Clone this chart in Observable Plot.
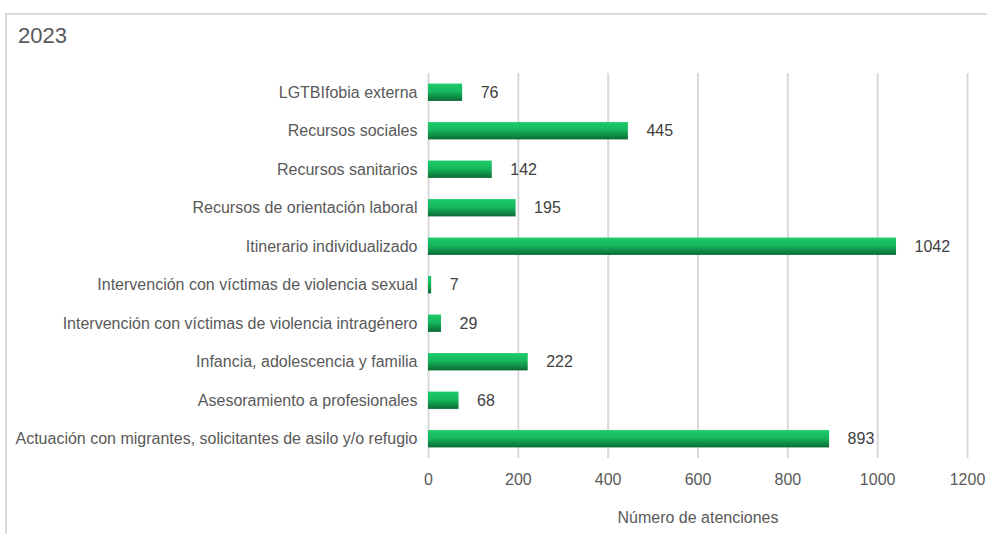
<!DOCTYPE html>
<html>
<head>
<meta charset="utf-8">
<script src="https://cdn.jsdelivr.net/npm/d3@7"></script>
<script src="https://cdn.jsdelivr.net/npm/@observablehq/plot@0.6"></script>
<style>
  html, body { margin: 0; padding: 0; background: #fff; }
  body { width: 987px; height: 534px; overflow: hidden; position: relative; font-family: "Liberation Sans", Arial, sans-serif; }
  #frame { position: absolute; left: 5px; top: 13px; width: 1000px; height: 600px; border-left: 2px solid #d9d9d9; border-top: 2px solid #d9d9d9; box-sizing: border-box; }
  #title { position: absolute; left: 18px; top: 23px; font-size: 22px; color: #595959; }
  #chart { position: absolute; left: 0; top: 0; }
</style>
</head>
<body>
<div id="frame"></div>
<div id="chart"></div>
<div id="title">2023</div>
<script>
const categories = [
  "LGTBIfobia externa",
  "Recursos sociales",
  "Recursos sanitarios",
  "Recursos de orientación laboral",
  "Itinerario individualizado",
  "Intervención con víctimas de violencia sexual",
  "Intervención con víctimas de violencia intragénero",
  "Infancia, adolescencia y familia",
  "Asesoramiento a profesionales",
  "Actuación con migrantes, solicitantes de asilo y/o refugio"
];
const values = [76, 445, 142, 195, 1042, 7, 29, 222, 68, 893];
const xTicks = [0, 200, 400, 600, 800, 1000, 1200];
const xLabel = "Número de atenciones";

const data = categories.map((c, i) => ({category: c, value: values[i]}));

const chart = Plot.plot({
  width: 987,
  height: 534,
  marginLeft: 428,
  marginRight: 20,
  marginTop: 73,
  marginBottom: 76,
  style: {fontFamily: "'Liberation Sans', Arial, sans-serif", fontSize: "16px", background: "transparent"},
  x: {domain: [0, 1200], ticks: xTicks, tickFormat: d3.format("d"), label: null},
  y: {domain: categories, paddingInner: 0.55, paddingOuter: 0.275, round: false, label: null},
  marks: [
    Plot.gridX(xTicks, {stroke: "#d9d9d9", strokeOpacity: 1, strokeWidth: 2}),
    Plot.barX(data, {x: "value", y: "category", fill: "url(#barGrad)"}),
    Plot.text(data, {x: "value", y: "category", text: d => String(d.value), textAnchor: "start", dx: 18, fill: "#404040", fontSize: 16}),
    Plot.axisX({ticks: xTicks, tickFormat: d3.format("d"), tickSize: 0, tickPadding: 15, color: "#595959", fontSize: 16, label: null}),
    Plot.axisY({tickSize: 0, tickPadding: 11, color: "#595959", fontSize: 16, label: null}),
    Plot.text([xLabel], {frameAnchor: "bottom", dy: 64, fill: "#595959", fontSize: 16})
  ]
});

const svg = d3.select(chart);
const defs = svg.insert("defs", ":first-child");
const grad = defs.append("linearGradient").attr("id", "barGrad").attr("x1", 0).attr("y1", 0).attr("x2", 0).attr("y2", 1);
grad.append("stop").attr("offset", "0%").attr("stop-color", "#1ccb69");
grad.append("stop").attr("offset", "45%").attr("stop-color", "#16b85e");
grad.append("stop").attr("offset", "100%").attr("stop-color", "#0a6b34");

document.getElementById("chart").appendChild(chart);
</script>
</body>
</html>
